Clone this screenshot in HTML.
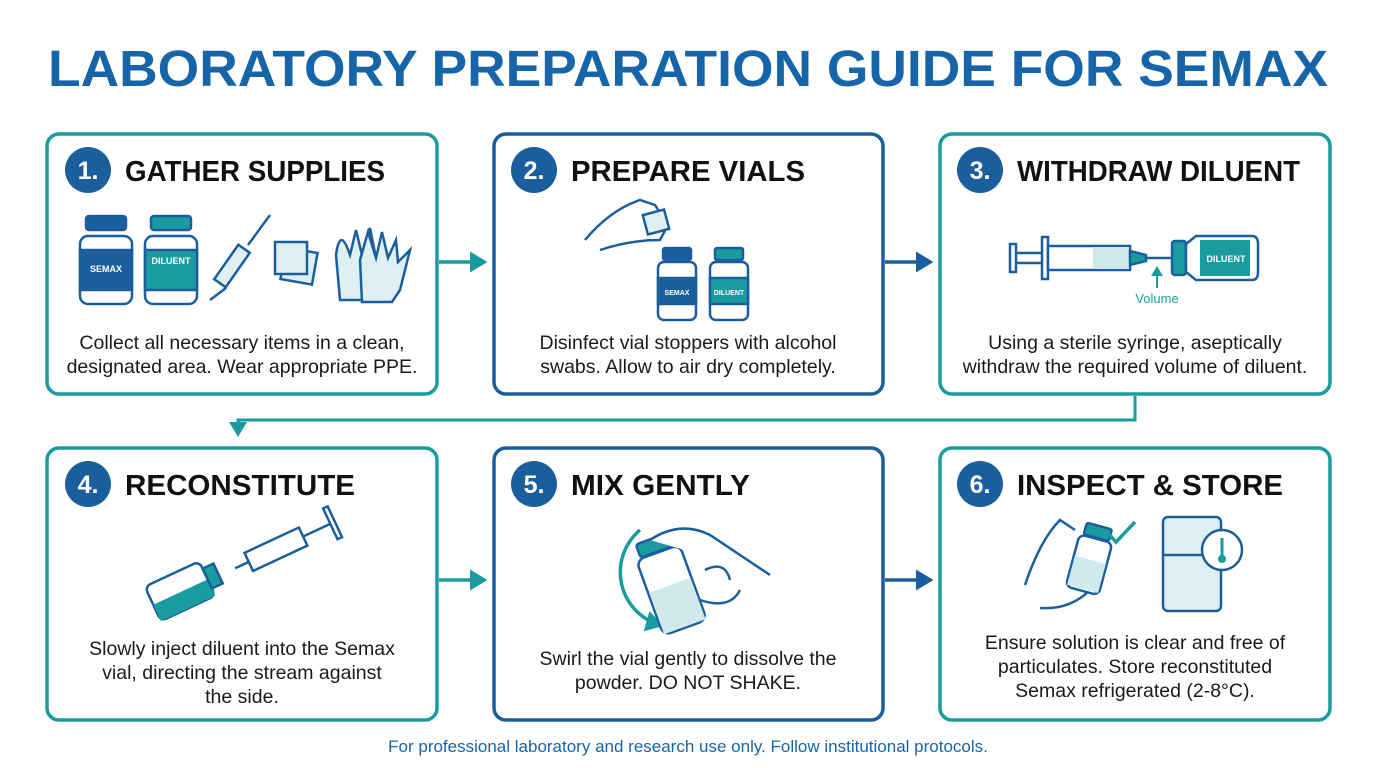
<!DOCTYPE html>
<html><head><meta charset="utf-8"><style>
body{margin:0;background:#fff;}
svg{display:block;font-family:"Liberation Sans",sans-serif;}
.h{font-size:29px;font-weight:bold;fill:#111;}
.d{font-size:19.5px;fill:#1a1a1a;text-anchor:middle;}
.n{font-size:25px;font-weight:bold;fill:#fff;text-anchor:middle;}
</style></head><body>
<svg width="1376" height="768" viewBox="0 0 1376 768">
<defs>
<marker id="at" markerWidth="6" markerHeight="6" refX="4" refY="3" orient="auto" markerUnits="strokeWidth"><path d="M0,0 L5,3 L0,6 z" fill="#1a9ba0"/></marker>
<marker id="ab" markerWidth="6" markerHeight="6" refX="4" refY="3" orient="auto" markerUnits="strokeWidth"><path d="M0,0 L5,3 L0,6 z" fill="#1b5e9e"/></marker>
</defs>
<text x="688" y="86" text-anchor="middle" font-size="51" font-weight="bold" fill="#1565a8" textLength="1280" lengthAdjust="spacingAndGlyphs">LABORATORY PREPARATION GUIDE FOR SEMAX</text>

<rect x="47" y="134" width="390" height="260" rx="12" fill="#fff" stroke="#1a9ba0" stroke-width="3.5"/>
<rect x="494" y="134" width="389" height="260" rx="12" fill="#fff" stroke="#1b5e9e" stroke-width="3.5"/>
<rect x="940" y="134" width="390" height="260" rx="12" fill="#fff" stroke="#1a9ba0" stroke-width="3.5"/>
<rect x="47" y="448" width="390" height="272" rx="12" fill="#fff" stroke="#1a9ba0" stroke-width="3.5"/>
<rect x="494" y="448" width="389" height="272" rx="12" fill="#fff" stroke="#1b5e9e" stroke-width="3.5"/>
<rect x="940" y="448" width="390" height="272" rx="12" fill="#fff" stroke="#1a9ba0" stroke-width="3.5"/>

<line x1="439" y1="262" x2="484" y2="262" stroke="#1a9ba0" stroke-width="3.5" marker-end="url(#at)"/>
<line x1="885" y1="262" x2="930" y2="262" stroke="#1b5e9e" stroke-width="3.5" marker-end="url(#ab)"/>
<line x1="439" y1="580" x2="484" y2="580" stroke="#1a9ba0" stroke-width="3.5" marker-end="url(#at)"/>
<line x1="885" y1="580" x2="930" y2="580" stroke="#1b5e9e" stroke-width="3.5" marker-end="url(#ab)"/>
<polyline points="1135,396 1135,420 238,420 238,434" fill="none" stroke="#1a9ba0" stroke-width="3" marker-end="url(#at)"/>

<circle cx="88" cy="170" r="23" fill="#1b5e9e"/><text x="88" y="179" class="n">1.</text>
<text x="125" y="181" class="h" textLength="260" lengthAdjust="spacingAndGlyphs">GATHER SUPPLIES</text>
<circle cx="534" cy="170" r="23" fill="#1b5e9e"/><text x="534" y="179" class="n">2.</text>
<text x="571" y="181" class="h" textLength="234" lengthAdjust="spacingAndGlyphs">PREPARE VIALS</text>
<circle cx="980" cy="170" r="23" fill="#1b5e9e"/><text x="980" y="179" class="n">3.</text>
<text x="1017" y="181" class="h" textLength="283" lengthAdjust="spacingAndGlyphs">WITHDRAW DILUENT</text>
<circle cx="88" cy="484" r="23" fill="#1b5e9e"/><text x="88" y="493" class="n">4.</text>
<text x="125" y="495" class="h" textLength="230" lengthAdjust="spacingAndGlyphs">RECONSTITUTE</text>
<circle cx="534" cy="484" r="23" fill="#1b5e9e"/><text x="534" y="493" class="n">5.</text>
<text x="571" y="495" class="h" textLength="179" lengthAdjust="spacingAndGlyphs">MIX GENTLY</text>
<circle cx="980" cy="484" r="23" fill="#1b5e9e"/><text x="980" y="493" class="n">6.</text>
<text x="1017" y="495" class="h" textLength="266" lengthAdjust="spacingAndGlyphs">INSPECT &amp; STORE</text>

<text class="d" x="242" y="349">Collect all necessary items in a clean,</text>
<text class="d" x="242" y="373">designated area. Wear appropriate PPE.</text>
<text class="d" x="688" y="349">Disinfect vial stoppers with alcohol</text>
<text class="d" x="688" y="373">swabs. Allow to air dry completely.</text>
<text class="d" x="1135" y="349">Using a sterile syringe, aseptically</text>
<text class="d" x="1135" y="373">withdraw the required volume of diluent.</text>
<text class="d" x="242" y="655">Slowly inject diluent into the Semax</text>
<text class="d" x="242" y="679">vial, directing the stream against</text>
<text class="d" x="242" y="703">the side.</text>
<text class="d" x="688" y="665">Swirl the vial gently to dissolve the</text>
<text class="d" x="688" y="689">powder. DO NOT SHAKE.</text>
<text class="d" x="1135" y="649">Ensure solution is clear and free of</text>
<text class="d" x="1135" y="673">particulates. Store reconstituted</text>
<text class="d" x="1135" y="697">Semax refrigerated (2-8°C).</text>

<text x="688" y="752" text-anchor="middle" font-size="17" fill="#1565a8">For professional laboratory and research use only. Follow institutional protocols.</text>

<g stroke="#1b5e9e" stroke-width="2.5">
<rect x="86" y="216" width="40" height="14" rx="3" fill="#1b5e9e"/>
<rect x="80" y="236" width="52" height="68" rx="8" fill="#fff"/>
<rect x="80" y="250" width="52" height="40" fill="#1b5e9e"/>
<rect x="151" y="216" width="40" height="14" rx="3" fill="#1a9ba0"/>
<rect x="145" y="236" width="52" height="68" rx="8" fill="#fff"/>
<rect x="145" y="250" width="52" height="40" fill="#1a9ba0"/>
</g>
<text x="106" y="272" font-size="9" font-weight="bold" fill="#fff" text-anchor="middle">SEMAX</text>
<text x="171" y="264" font-size="9" font-weight="bold" fill="#fff" text-anchor="middle">DILUENT</text>
<g stroke="#1b5e9e" stroke-width="2.5" fill="#dff0f2">
<line x1="270" y1="215" x2="248" y2="245"/>
<rect x="225" y="245" width="14" height="42" transform="rotate(35 232 266)"/>
<line x1="210" y1="300" x2="226" y2="288"/>
<rect x="283" y="250" width="32" height="32" transform="rotate(10 299 266)"/>
<rect x="275" y="242" width="32" height="32"/>
<path d="M340,300 L336,255 Q340,225 350,255 L356,230 L362,255 L370,228 L376,258 L384,240 L384,278 L372,300 Z"/>
<path d="M362,302 L360,260 L368,232 L376,258 L382,232 L388,258 L396,240 L398,262 L410,250 L400,290 L392,302 Z"/>
</g>

<g stroke="#1b5e9e" stroke-width="2.5" fill="#fff">
<path d="M585,240 Q610,210 640,200 L655,205 L668,225 L660,240 Q630,240 600,250"/>
<rect x="645" y="212" width="22" height="20" fill="#dff0f2" transform="rotate(-15 656 222)"/>
<rect x="663" y="248" width="28" height="12" rx="2" fill="#1b5e9e"/>
<rect x="658" y="262" width="38" height="58" rx="6"/>
<rect x="658" y="278" width="38" height="26" fill="#1b5e9e"/>
<rect x="715" y="248" width="28" height="12" rx="2" fill="#1a9ba0"/>
<rect x="710" y="262" width="38" height="58" rx="6"/>
<rect x="710" y="278" width="38" height="26" fill="#1a9ba0"/>
</g>
<text x="677" y="295" font-size="7" font-weight="bold" fill="#fff" text-anchor="middle">SEMAX</text>
<text x="729" y="295" font-size="7" font-weight="bold" fill="#fff" text-anchor="middle">DILUENT</text>

<g stroke="#1b5e9e" stroke-width="2.5" fill="#fff">
<rect x="1010" y="244" width="6" height="28"/>
<line x1="1016" y1="253" x2="1042" y2="253"/><line x1="1016" y1="263" x2="1042" y2="263"/>
<rect x="1042" y="237" width="6" height="42"/>
<rect x="1048" y="246" width="82" height="24" fill="#fff"/>
<rect x="1093" y="247" width="36" height="22" fill="#cfe9ec" stroke="none"/>
<path d="M1130,251 L1146,255 L1146,261 L1130,265 Z" fill="#1a9ba0"/>
<line x1="1146" y1="258" x2="1174" y2="258"/>
<rect x="1172" y="241" width="14" height="34" rx="3" fill="#1a9ba0"/>
<path d="M1186,244 L1196,236 L1252,236 Q1258,236 1258,244 L1258,272 Q1258,280 1252,280 L1196,280 L1186,272 Z"/>
<rect x="1200" y="240" width="50" height="36" fill="#1a9ba0" stroke="none"/>
</g>
<text x="1226" y="262" font-size="9" font-weight="bold" fill="#fff" text-anchor="middle">DILUENT</text>
<line x1="1157" y1="288" x2="1157" y2="268" stroke="#1a9ba0" stroke-width="2" marker-end="url(#at)"/>
<text x="1157" y="303" font-size="13" fill="#1a9ba0" text-anchor="middle">Volume</text>

<g stroke="#1b5e9e" stroke-width="2.5" fill="#fff">
<g transform="rotate(-25 185 590)">
<rect x="150" y="570" width="60" height="38" rx="6"/>
<rect x="150" y="590" width="60" height="18" fill="#1a9ba0" stroke="none"/>
<rect x="210" y="578" width="12" height="22" fill="#1a9ba0"/>
</g>
<g transform="rotate(-25 285 545)">
<rect x="245" y="535" width="60" height="20"/>
<line x1="305" y1="545" x2="335" y2="545"/>
<rect x="335" y="528" width="5" height="34"/>
<line x1="245" y1="545" x2="230" y2="545"/>
</g>
</g>
<circle cx="215" cy="580" r="3" fill="#1a9ba0"/><circle cx="205" cy="590" r="2.5" fill="#1a9ba0"/>

<path d="M640,530 A55,55 0 0 0 660,625" fill="none" stroke="#1a9ba0" stroke-width="3.5" marker-end="url(#at)"/>
<g stroke="#1b5e9e" stroke-width="2.5" fill="#fff">
<g transform="rotate(-20 670 580)">
<rect x="650" y="535" width="36" height="14" rx="3" fill="#1a9ba0"/>
<rect x="645" y="550" width="46" height="80" rx="8"/>
<rect x="646" y="585" width="44" height="44" fill="#cfe9ec" stroke="none"/>
</g>
<path d="M650,540 Q680,520 710,535 L770,575 M700,600 Q730,610 740,590 M705,570 Q725,560 730,580"/>
</g>

<g stroke="#1b5e9e" stroke-width="2.5" fill="#fff">
<path d="M1025,585 Q1040,540 1060,520 L1075,530 M1040,608 Q1070,610 1090,590"/>
<g transform="rotate(15 1090 565)">
<rect x="1076" y="525" width="26" height="12" rx="2" fill="#1a9ba0"/>
<rect x="1072" y="538" width="34" height="54" rx="6"/>
<rect x="1073" y="560" width="32" height="30" fill="#cfe9ec" stroke="none"/>
</g>
<rect x="1163" y="517" width="58" height="94" rx="5" fill="#dff0f2"/>
<line x1="1163" y1="555" x2="1221" y2="555"/>
<circle cx="1222" cy="550" r="20" fill="#fff"/>
</g>
<path d="M1107,532 L1116,542 L1135,522" fill="none" stroke="#1a9ba0" stroke-width="3.5"/>
<line x1="1222" y1="538" x2="1222" y2="556" stroke="#1a9ba0" stroke-width="3"/><circle cx="1222" cy="559" r="4" fill="#1a9ba0"/>
</svg>
</body></html>
